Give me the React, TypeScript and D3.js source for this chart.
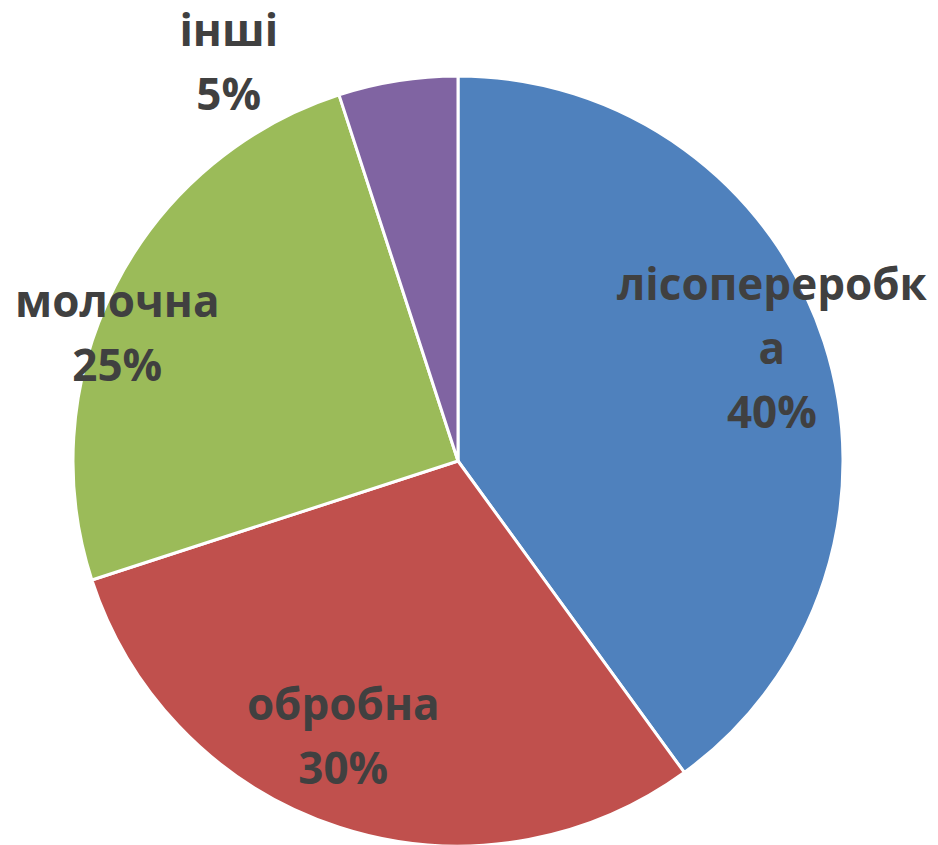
import { useMemo } from "react";
import * as d3 from "d3";

// chart data
const categories = ["лісопереробка", "обробна", "молочна", "інші"];
const values = [40, 30, 25, 5];
const labelLines = [["лісопереробк", "а"], ["обробна"], ["молочна"], ["інші"]];
const colors = ["#4F81BD", "#C0504D", "#9BBB59", "#8064A2"];

// where excel's "best fit" dropped each label (radius factor + nudge)
const labelLayout = [
  { k: 0.83, dx: 10, dy: -14 },
  { k: 0.83, dx: -16, dy: -29 },
  { k: 0.83, dx: -56, dy: 17 },
  { k: 1.15, dx: -160, dy: 38 },
];

const W = 938;
const H = 845;

export default function App() {
  const cx = 458;
  const cy = 461;
  const r = 385;
  const fontSize = 44;
  const lineH = 64;

  const arcs = useMemo(
    () =>
      d3
        .pie<number>()
        .sort(null)
        .value((d) => d)(values),
    []
  );
  const arc = d3.arc<d3.PieArcDatum<number>>().innerRadius(0).outerRadius(r);
  const total = d3.sum(values);

  return (
    <svg
      width={W}
      height={H}
      style={{ position: "absolute", left: 0, top: 0, background: "#fff" }}
    >
      <g transform={`translate(${cx},${cy})`}>
        {arcs.map((a, i) => (
          <path
            key={categories[i]}
            d={arc(a) || ""}
            fill={colors[i]}
            stroke="#fff"
            strokeWidth={3}
            strokeLinejoin="round"
          />
        ))}
        {arcs.map((a, i) => {
          const lay = labelLayout[i];
          const la = d3
            .arc<d3.PieArcDatum<number>>()
            .innerRadius(r * lay.k)
            .outerRadius(r * lay.k);
          const [x0, y0] = la.centroid(a);
          const x = x0 + lay.dx;
          const y = y0 + lay.dy;
          const lines = [
            ...labelLines[i],
            Math.round((values[i] / total) * 100) + "%",
          ];
          const n = lines.length;
          return (
            <text
              key={"l" + i}
              textAnchor="middle"
              fontFamily="'Open Sans', 'Noto Sans', sans-serif"
              fontWeight="bold"
              fontSize={fontSize}
              fill="#404040"
            >
              {lines.map((t, j) => (
                <tspan
                  key={j}
                  x={x}
                  y={y + (j - (n - 1) / 2) * lineH + 16}
                >
                  {t}
                </tspan>
              ))}
            </text>
          );
        })}
      </g>
    </svg>
  );
}
